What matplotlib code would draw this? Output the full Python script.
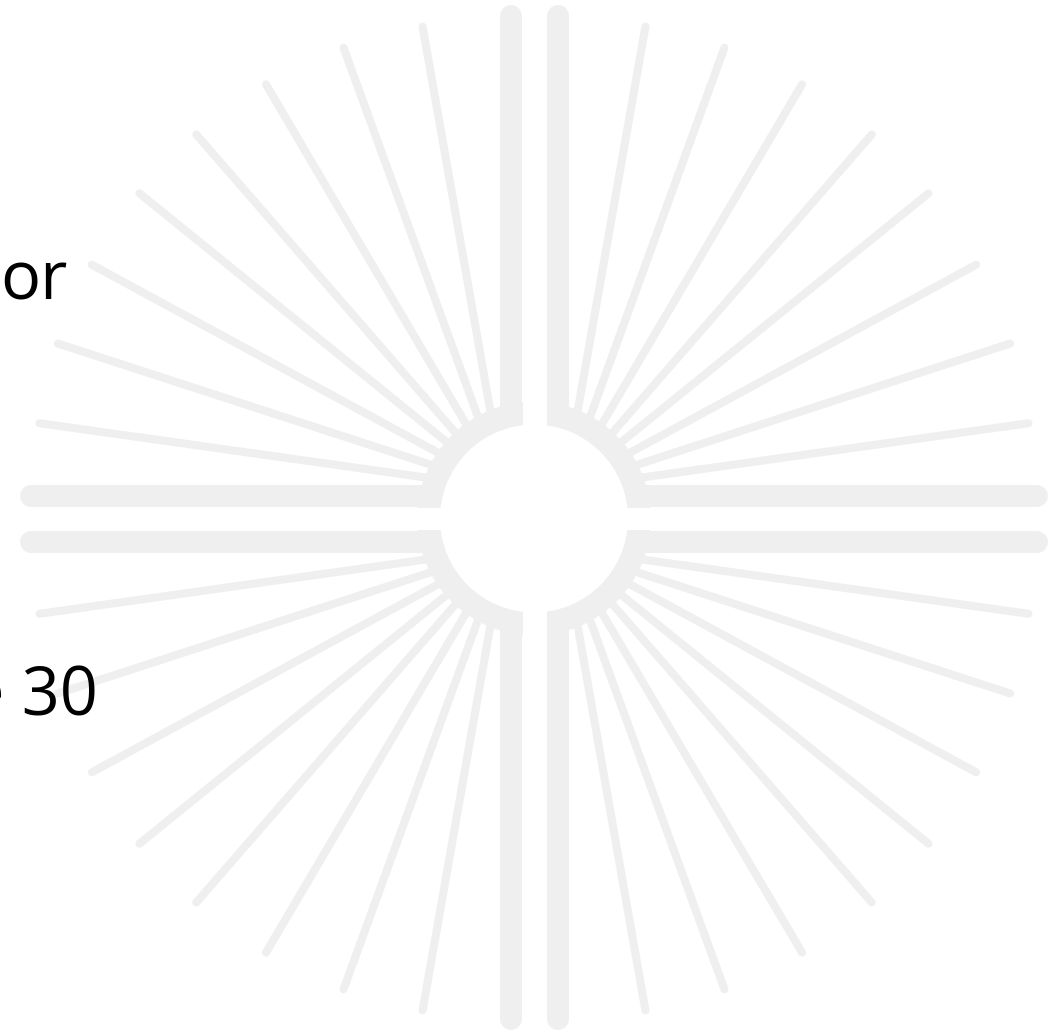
import matplotlib.pyplot as plt
import numpy as np
from matplotlib.patches import Circle, Rectangle

# Sunburst geometry (pixel units)
center = (534, 518.5)
ray_angles = [8, 18, 28.5, 39, 49, 59.5, 70, 80]   # degrees inside each quadrant
ray_length = 469
quadrant_offset = 30          # ray origin shift from the center
bar_y = [496, 541.5]          # thick horizontal bars
bar_x = [511, 557.5]          # thick vertical bars
labels = ['or', 'e 30']
label_pos = [(68, 300), (98, 715)]

gray = '#efefef'

fig = plt.figure(figsize=(10.5, 10.35), dpi=100)
ax = fig.add_axes([0, 0, 1, 1])
ax.set_xlim(0, 1050)
ax.set_ylim(1035, 0)
ax.axis('off')

cx, cy = center
# thin rays, one fan per quadrant
for sx in (1, -1):
    for sy in (1, -1):
        ox = cx + sx * quadrant_offset
        oy = cy - sy * quadrant_offset
        for a in ray_angles:
            t = np.radians(a)
            ex = ox + sx * ray_length * np.cos(t)
            ey = oy - sy * ray_length * np.sin(t)
            ax.plot([ox, ex], [oy, ey], color=gray, lw=5.8, solid_capstyle='round', zorder=1)

# thick bars
for y in bar_y:
    ax.plot([31, 1037], [y, y], color=gray, lw=15.8, solid_capstyle='round', zorder=1)
for x in bar_x:
    ax.plot([x, x], [16, 1019], color=gray, lw=15.8, solid_capstyle='round', zorder=1)

# gray ring around the sun, then white gaps and the white disc
ax.add_patch(Circle(center, 117, color=gray, zorder=2, lw=0))
ax.add_patch(Rectangle((522.5, cy - 125), 24, 250, color='white', zorder=3, lw=0))
ax.add_patch(Rectangle((cx - 125, 507.5), 250, 22, color='white', zorder=3, lw=0))
ax.add_patch(Circle(center, 94, color='white', zorder=4, lw=0))

for txt, (x, y) in zip(labels, label_pos):
    ax.text(x, y, txt, ha='right', va='baseline', fontsize=48,
            family='Open Sans', color='black', zorder=5)

fig.savefig('out.png', dpi=100)
